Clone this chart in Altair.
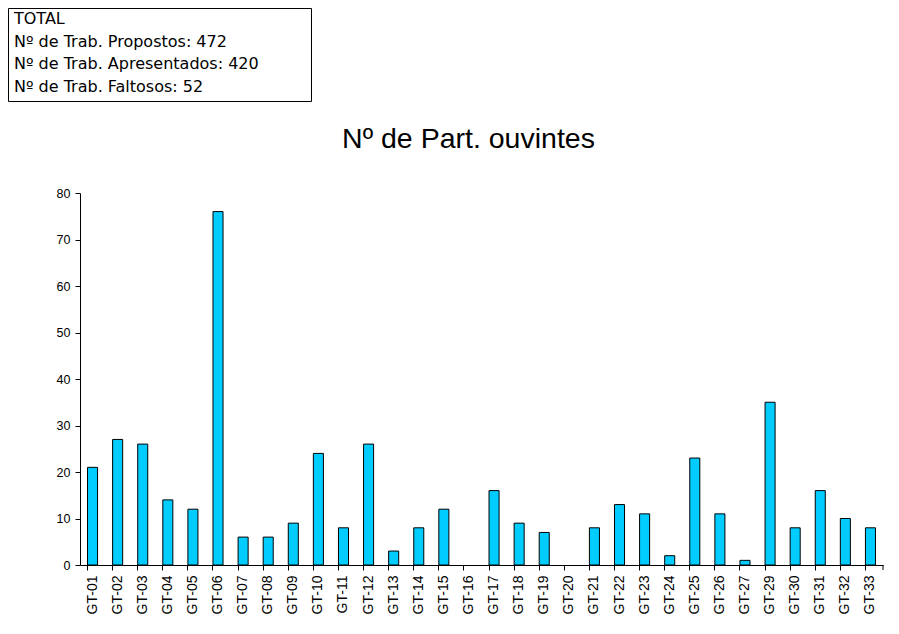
import altair as alt
import pandas as pd

categories = ["GT-01","GT-02","GT-03","GT-04","GT-05","GT-06","GT-07","GT-08","GT-09","GT-10",
              "GT-11","GT-12","GT-13","GT-14","GT-15","GT-16","GT-17","GT-18","GT-19","GT-20",
              "GT-21","GT-22","GT-23","GT-24","GT-25","GT-26","GT-27","GT-29","GT-30","GT-31",
              "GT-32","GT-33"]
values = [21,27,26,14,12,76,6,6,9,24,8,26,3,8,12,0,16,9,7,0,8,13,11,2,23,11,1,35,8,16,10,8]
box_lines = ["TOTAL", "Nº de Trab. Propostos: 472", "Nº de Trab. Apresentados: 420", "Nº de Trab. Faltosos: 52"]
title_text = "Nº de Part. ouvintes"
y_ticks = [0,10,20,30,40,50,60,70,80]

FONT = "Liberation Sans"
W, H = 803, 372

df = pd.DataFrame({"cat": categories, "val": values})

bars = alt.Chart(df).mark_bar(color="#00CCFF", strokeWidth=1).encode(
    x=alt.X("cat:N", sort=categories, title=None,
            scale=alt.Scale(paddingInner=0.6, paddingOuter=0.3),
            axis=alt.Axis(bandPosition=0, labelAngle=270, labelFont=FONT, labelFontSize=14,
                          labelColor="black", domainColor="black", tickColor="black",
                          tickSize=5, labelPadding=5, labelAlign="right", labelBaseline="middle")),
    y=alt.Y("val:Q", title=None,
            scale=alt.Scale(domain=[0, 80]),
            axis=alt.Axis(values=y_ticks, labelFont=FONT, labelFontSize=12.5, labelColor="black",
                          domainColor="black", tickColor="black", tickSize=5, grid=False,
                          labelPadding=5)),
    stroke=alt.condition("datum.val > 0", alt.value("black"), alt.value("transparent")),
)

one = pd.DataFrame({"a": [0]})

end_tick = alt.Chart(one).mark_rule(color="black").encode(
    x=alt.value(W), y=alt.value(H), y2=alt.value(H + 5)
)

box = alt.Chart(one).mark_rect(fill="white", stroke="black", strokeWidth=1).encode(
    x=alt.value(-71.5), x2=alt.value(231.5), y=alt.value(-184.5), y2=alt.value(-91.5)
)

box_df = pd.DataFrame({"line": box_lines, "i": list(range(len(box_lines)))})
box_text = alt.Chart(box_df).mark_text(font="DejaVu Sans", fontSize=16, align="left", baseline="alphabetic",
                                        color="black", x=-66).encode(
    text="line:N",
    y=alt.Y("i:Q", scale=alt.Scale(domain=[0, 3], range=[-169, -101]), axis=None)
)

title = alt.Chart(pd.DataFrame({"t": [title_text]})).mark_text(
    font=FONT, fontSize=28.5, align="center", baseline="alphabetic", color="black"
).encode(text="t:N", x=alt.value(468.5 - 80), y=alt.value(-45))

chart = alt.layer(bars, end_tick, box, box_text, title).resolve_scale(y="independent").properties(
    width=W, height=H,
    autosize="none",
    background="white",
    padding={"left": 72, "top": 185, "right": 8, "bottom": 61},
).configure_view(stroke=None)

chart.save("out.html", embed_options={"renderer": "svg", "actions": False})
